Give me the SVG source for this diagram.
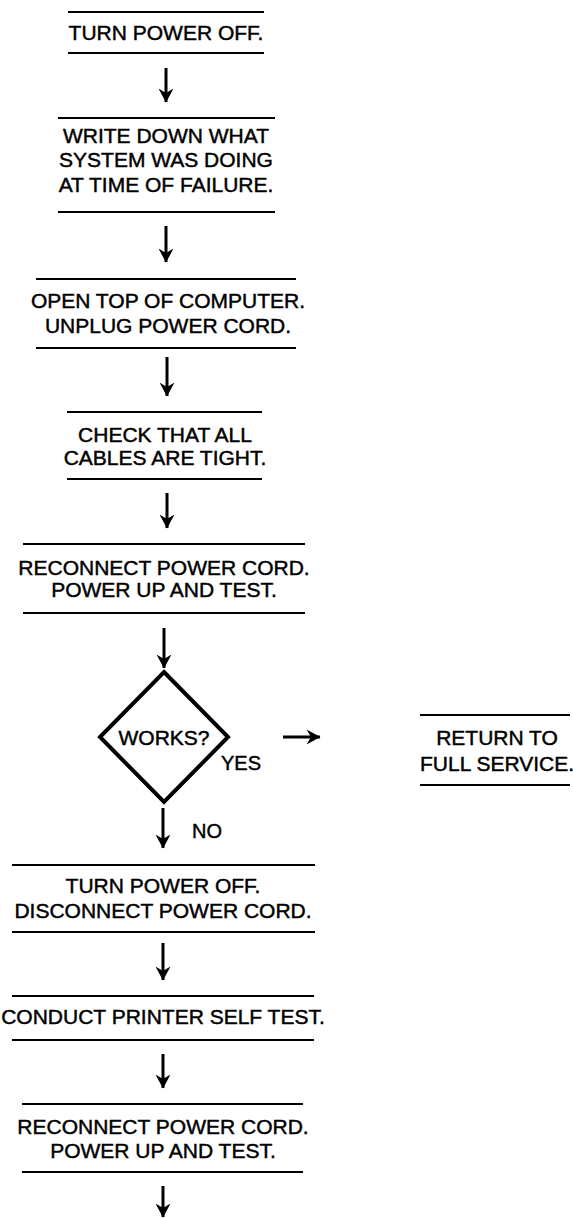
<svg xmlns="http://www.w3.org/2000/svg" width="573" height="1218" viewBox="0 0 573 1218">
<style>
  .bar { stroke:#000; stroke-width:2; fill:none; }
  .t { font-family:"Liberation Sans", Arial, sans-serif; font-size:21px; fill:#000; stroke:#000; stroke-width:0.45; text-anchor:middle; }
  .lbl { font-family:"Liberation Sans", Arial, sans-serif; font-size:20px; fill:#000; stroke:#000; stroke-width:0.45; }
  .conn { stroke:#000; stroke-width:3; fill:none; marker-end:url(#ah); }
  .dia { stroke:#000; stroke-width:4; fill:#fff; stroke-linejoin:miter; }
</style>
<defs>
  <marker id="ah" viewBox="0 0 14 16" refX="13.5" refY="8" markerWidth="14" markerHeight="16" markerUnits="userSpaceOnUse" orient="auto">
    <path d="M0,0.5 L14,8 L0,15.5 L4.5,8 z" fill="#000"/>
  </marker>
</defs>
<rect width="573" height="1218" fill="#fff"/>

<g id="n1">
  <line class="bar" x1="68" y1="12" x2="264" y2="12"/>
  <text class="t" x="166" y="40">TURN POWER OFF.</text>
  <line class="bar" x1="68" y1="53" x2="264" y2="53"/>
</g>
<g id="n2">
  <line class="bar" x1="58" y1="118" x2="275" y2="118"/>
  <text class="t" x="166" y="143">WRITE DOWN WHAT</text>
  <text class="t" x="166" y="167">SYSTEM WAS DOING</text>
  <text class="t" x="166" y="192">AT TIME OF FAILURE.</text>
  <line class="bar" x1="58" y1="212" x2="275" y2="212"/>
</g>
<g id="n3">
  <line class="bar" x1="36" y1="279" x2="296" y2="279"/>
  <text class="t" x="168" y="308">OPEN TOP OF COMPUTER.</text>
  <text class="t" x="168" y="333">UNPLUG POWER CORD.</text>
  <line class="bar" x1="36" y1="348" x2="296" y2="348"/>
</g>
<g id="n4">
  <line class="bar" x1="67" y1="412" x2="262" y2="412"/>
  <text class="t" x="165" y="442">CHECK THAT ALL</text>
  <text class="t" x="165" y="465">CABLES ARE TIGHT.</text>
  <line class="bar" x1="67" y1="479" x2="262" y2="479"/>
</g>
<g id="n5">
  <line class="bar" x1="23" y1="544" x2="305" y2="544"/>
  <text class="t" x="164" y="575">RECONNECT POWER CORD.</text>
  <text class="t" x="164" y="597">POWER UP AND TEST.</text>
  <line class="bar" x1="23" y1="613" x2="305" y2="613"/>
</g>
<g id="n6">
  <polygon class="dia" points="164,672 228,737 164,802 100,737"/>
  <text class="t" x="164" y="745">WORKS?</text>
</g>
<g id="n7">
  <line class="bar" x1="420" y1="715" x2="570" y2="715"/>
  <text class="t" x="497" y="745">RETURN TO</text>
  <text class="t" x="497" y="771">FULL SERVICE.</text>
  <line class="bar" x1="420" y1="785" x2="570" y2="785"/>
</g>
<g id="n8">
  <line class="bar" x1="12" y1="865" x2="315" y2="865"/>
  <text class="t" x="163" y="893">TURN POWER OFF.</text>
  <text class="t" x="163" y="918">DISCONNECT POWER CORD.</text>
  <line class="bar" x1="12" y1="932" x2="315" y2="932"/>
</g>
<g id="n9">
  <line class="bar" x1="12" y1="996" x2="314" y2="996"/>
  <text class="t" x="163" y="1024">CONDUCT PRINTER SELF TEST.</text>
  <line class="bar" x1="12" y1="1040" x2="314" y2="1040"/>
</g>
<g id="n10">
  <line class="bar" x1="22" y1="1104" x2="303" y2="1104"/>
  <text class="t" x="163" y="1134">RECONNECT POWER CORD.</text>
  <text class="t" x="163" y="1158">POWER UP AND TEST.</text>
  <line class="bar" x1="22" y1="1172" x2="303" y2="1172"/>
</g>

<g id="connectors">
  <line class="conn" x1="166" y1="68" x2="166" y2="102"/>
  <line class="conn" x1="166" y1="226" x2="166" y2="262"/>
  <line class="conn" x1="167" y1="357" x2="167" y2="396"/>
  <line class="conn" x1="167" y1="493" x2="167" y2="528"/>
  <line class="conn" x1="164" y1="628" x2="164" y2="668"/>
  <line class="conn" x1="283" y1="737" x2="320" y2="737"/>
  <text class="lbl" x="221" y="770">YES</text>
  <line class="conn" x1="163" y1="808" x2="163" y2="848"/>
  <text class="lbl" x="192" y="838">NO</text>
  <line class="conn" x1="163" y1="943" x2="163" y2="980"/>
  <line class="conn" x1="163" y1="1054" x2="163" y2="1088"/>
  <line class="conn" x1="163" y1="1186" x2="163" y2="1217"/>
</g>
</svg>
